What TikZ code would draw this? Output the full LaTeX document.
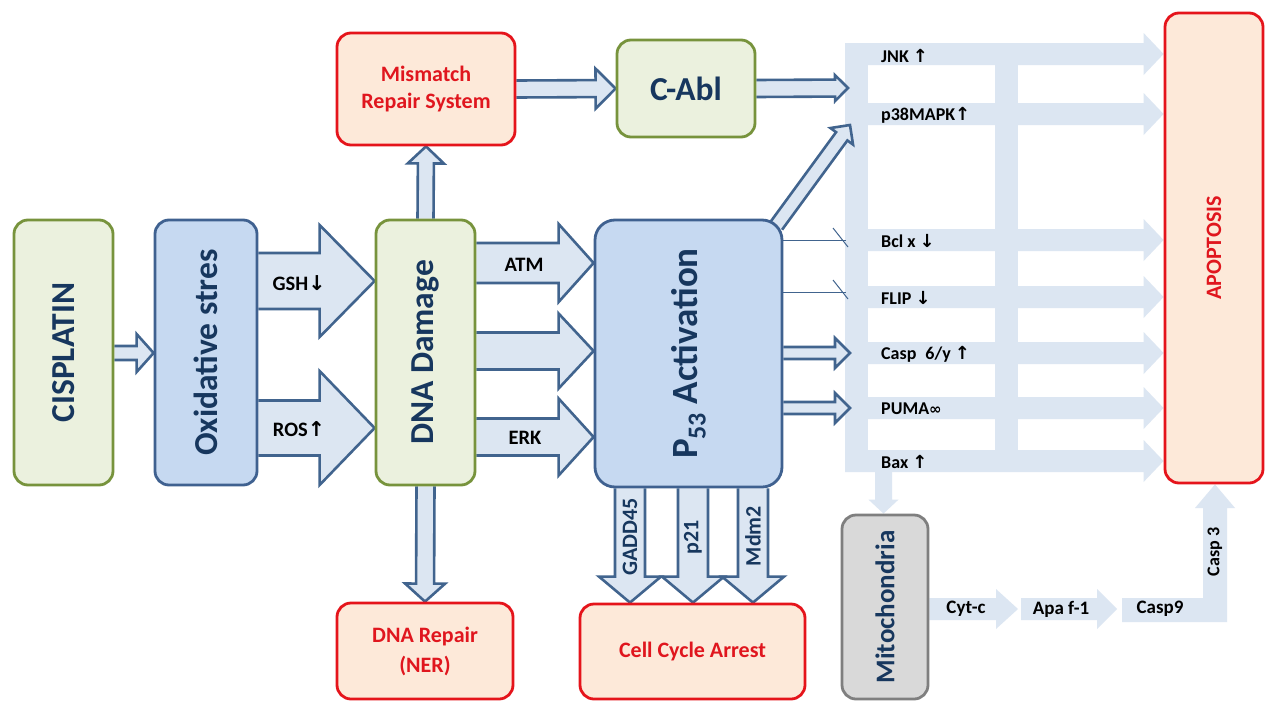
\documentclass[tikz,border=0pt]{standalone}
\usepackage{fontspec}
\setmainfont{Carlito}
\newfontfamily\symf{DejaVu Sans}
\usetikzlibrary{calc}
\pgfdeclarelayer{back}
\pgfdeclarelayer{bg}
\pgfsetlayers{back,bg,main}
\definecolor{gfill}{HTML}{EBF1DE}
\definecolor{gdraw}{HTML}{77933C}
\definecolor{bfill}{HTML}{C6D9F1}
\definecolor{bdraw}{HTML}{3F6190}
\definecolor{rfill}{HTML}{FDE9D9}
\definecolor{rdraw}{HTML}{E5141B}
\definecolor{rtext}{HTML}{E0161E}
\definecolor{mfill}{HTML}{D9D9D9}
\definecolor{mdraw}{HTML}{7F7F7F}
\definecolor{dtext}{HTML}{17375E}
\definecolor{afill}{HTML}{DCE6F2}
\definecolor{adraw}{HTML}{41648E}
\definecolor{lbar}{HTML}{DCE6F2}
\newcommand\bigf{\fontsize{33.5}{40}\selectfont\bfseries}
\newcommand\redf{\fontsize{22}{27}\selectfont\bfseries}
\newcommand\mitof{\fontsize{27}{32}\selectfont\bfseries}
\newcommand\labf{\fontsize{18}{20}\selectfont\bfseries}
\newcommand\labbf{\fontsize{20.5}{22}\selectfont\bfseries}
\newcommand\slabf{\fontsize{22}{24}\selectfont\bfseries}
\newcommand\arrup{{\symf\bfseries ↑}}
\newcommand\arrdn{{\symf\bfseries ↓}}
% block arrow: [style]{start}{end}{shaft half width}{head half width}{head length}
\newcommand\blockarrow[6][oarrow]{%
  \coordinate (baA) at (#2);
  \coordinate (baB) at (#3);
  \coordinate (baC) at ($(baB)!#6pt!(baA)$);
  \path[#1] ($(baA)!#4pt!90:(baB)$) -- ($(baC)!#4pt!90:(baB)$) -- ($(baC)!#5pt!90:(baB)$) -- (baB) -- ($(baC)!#5pt!-90:(baB)$) -- ($(baC)!#4pt!-90:(baB)$) -- ($(baA)!#4pt!-90:(baB)$);
}
\tikzset{
  box/.style={line width=2.8pt, rounded corners=14pt, inner sep=0pt, align=center},
  gbox/.style={box, draw=gdraw, fill=gfill, text=dtext, font=\bigf},
  bbox/.style={box, draw=bdraw, fill=bfill, text=dtext, font=\bigf},
  rbox/.style={box, draw=rdraw, fill=rfill, text=rtext, font=\redf},
  mbox/.style={box, draw=mdraw, fill=mfill, text=dtext, font=\mitof},
  oarrow/.style={draw=adraw, fill=afill, line width=2.6pt, line join=miter},
  lightarrow/.style={fill=lbar},
  lab/.style={font=\labf, text=black, inner sep=0pt},
  labb/.style={font=\labbf, text=black, inner sep=0pt},
  slab/.style={font=\slabf, text=dtext, inner sep=0pt},
  thinln/.style={draw=adraw, line width=1pt},
}
\begin{document}
\begin{tikzpicture}[x=1pt,y=-1pt]
\useasboundingbox (0,0) rectangle (1270,702);
\begin{pgfonlayer}{back}\fill[white] (0,0) rectangle (1270,702);\end{pgfonlayer}
% boxes
\node[gbox, minimum width=99, minimum height=265] (cis) at (63.5,352.5) {\rotatebox{90}{CISPLATIN}};
\node[bbox, minimum width=102, minimum height=265] (ox) at (206,352.5) {\rotatebox{90}{Oxidative stres}};
\node[gbox, minimum width=99, minimum height=265] (dna) at (425.5,352.5) {\rotatebox{90}{DNA Damage}};
\node[bbox, minimum width=187, minimum height=267, rounded corners=20pt, font=\fontsize{37}{42}\selectfont\bfseries] (p53) at (688.5,353.5) {\rotatebox{90}{P\textsubscript{53} Activation}};
\node[rbox, minimum width=178, minimum height=112] (mis) at (426,89) {Mismatch\\Repair System};
\node[gbox, minimum width=138, minimum height=97] (cabl) at (686,88.5) {C-Abl};
\node[rbox, minimum width=98, minimum height=470] (apop) at (1214,248) {\rotatebox{90}{APOPTOSIS}};
\node[mbox, minimum width=86, minimum height=184] (mito) at (885,607) {\rotatebox{90}{Mitochondria}};
\node[rbox, minimum width=225, minimum height=95] (cca) at (692.5,651.5) {Cell Cycle Arrest};
\node[rbox, minimum width=176, minimum height=96, font=\fontsize{22}{30}\selectfont\bfseries] (ner) at (425,651) {DNA Repair\\(NER)};
% free ends
\coordinate (jnkin) at (848,88);
\coordinate (p38in) at (850,125);
\coordinate (caspin) at (850,353);
\coordinate (pumain) at (850,408);
\coordinate (baxout) at (883.5,472);
\coordinate (cyt) at (1018,609);
\coordinate (apa) at (1021,609);
\coordinate (apaend) at (1117,609);
\begin{pgfonlayer}{bg}
% light pathway structure
\fill[lbar] (845,43) rectangle (868,472);
\fill[lbar] (995,43) rectangle (1018,472);
\foreach \yy in {54,114,240,297,353,408,461} {\blockarrow[lightarrow]{845,\yy}{apop.west|-0,\yy}{11}{21}{20}}
\blockarrow[lightarrow]{baxout}{mito.north-|baxout}{8.5}{15}{14}
\blockarrow[lightarrow]{mito.east|-cyt}{cyt}{11}{20}{22}
\blockarrow[lightarrow]{apa}{apaend}{11}{20}{20}
\fill[lbar] (1122,598) -- (1203,598) -- (1203,508) -- (1195,508) -- (apop.south-|1215,0) -- (1235,508) -- (1227,508) -- (1227,622) -- (1122,622) -- cycle;
% thin lines
\draw[thinln] (p53.east|-0,240) -- (846,240);
\draw[thinln] (833,228) -- (848,247);
\draw[thinln] (p53.east|-0,292) -- (846,292);
\draw[thinln] (833,280) -- (848,299);
% outline arrows
\blockarrow{cis.east|-0,353}{ox.west|-0,353}{7}{19}{17}
\blockarrow{ox.east|-0,281}{dna.west|-0,281}{28}{56}{55}
\blockarrow{ox.east|-0,428}{dna.west|-0,428}{27.5}{57}{55}
\blockarrow{dna.north}{mis.south}{8}{18}{17}
\blockarrow{mis.east}{cabl.west}{8.5}{20}{20}
\blockarrow{cabl.east}{jnkin}{8.5}{13}{13}
\blockarrow{$(p53.north east)+(-7,7)$}{p38in}{7}{14}{14}
\blockarrow{p53.east|-caspin}{caspin}{6}{15}{15}
\blockarrow{p53.east|-pumain}{pumain}{6}{15}{15}
\blockarrow{dna.east|-0,263}{p53.west|-0,263}{20}{39}{35}
\blockarrow{dna.east|-0,351}{p53.west|-0,351}{18.5}{37.5}{35}
\blockarrow{dna.east|-0,437}{p53.west|-0,437}{18.5}{38.5}{35}
\blockarrow{dna.south}{ner.north}{9}{20}{18}
\blockarrow{p53.south-|630,0}{cca.north-|630,0}{15}{31}{26}
\blockarrow{p53.south-|693,0}{cca.north-|693,0}{15}{31}{26}
\blockarrow{p53.south-|753,0}{cca.north-|753,0}{15}{31}{26}
\end{pgfonlayer}
% labels
\node[labb] (lgsh) at (299,283) {GSH\arrdn};
\node[labb] (lros) at (299,429) {ROS\arrup};
\node[labb] (latm) at (524,265) {ATM};
\node[labb] (lerk) at (525,438) {ERK};
\node[lab, anchor=west] (ljnk) at (881,56) {JNK \arrup};
\node[lab, anchor=west] (lp38) at (881,115) {p38MAPK\arrup};
\node[lab, anchor=west] (lbcl) at (881,241) {Bcl x \arrdn};
\node[lab, anchor=west] (lflip) at (881,298) {FLIP \arrdn};
\node[lab, anchor=west] (lcasp) at (881,354) {Casp\enspace 6/y \arrup};
\node[lab, anchor=west] (lpuma) at (881,409) {PUMA{\symf\bfseries\fontsize{15}{16}\selectfont ∞}};
\node[lab, anchor=west] (lbax) at (881,462) {Bax \arrup};
\node[lab, font=\fontsize{19}{21}\selectfont\bfseries] (lcyt) at (966,609) {Cyt-c};
\node[lab, font=\fontsize{19}{21}\selectfont\bfseries] (lapa) at (1061,609) {Apa f-1};
\node[lab, font=\fontsize{19}{21}\selectfont\bfseries] (lc9) at (1160,609) {Casp9};
\node[lab] (lc3) at (1215,552) {\rotatebox{90}{Casp 3}};
\node[slab] (lgadd) at (630,537) {\rotatebox{90}{GADD45}};
\node[slab] (lp21) at (693,537) {\rotatebox{90}{p21}};
\node[slab] (lmdm) at (753,536) {\rotatebox{90}{Mdm2}};
\end{tikzpicture}
\end{document}
